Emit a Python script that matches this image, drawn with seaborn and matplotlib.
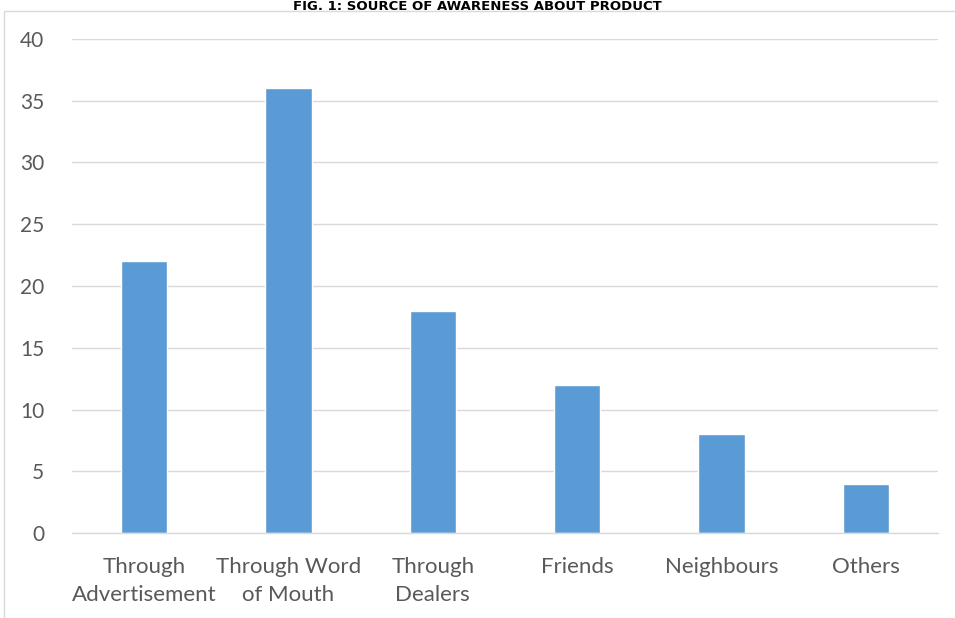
import matplotlib
matplotlib.use("Agg")
import matplotlib.pyplot as plt
import seaborn as sns
import pandas as pd
from matplotlib.patches import Rectangle

categories = ["Through\nAdvertisement", "Through Word\nof Mouth", "Through\nDealers", "Friends", "Neighbours", "Others"]
values = [22, 36, 18, 12, 8, 4]
yticks = [0, 5, 10, 15, 20, 25, 30, 35, 40]
title = "FIG. 1: SOURCE OF AWARENESS ABOUT PRODUCT"

sns.set_theme(style="white")
plt.rcParams['font.family'] = ['Lato', 'DejaVu Sans']

fig = plt.figure(figsize=(9.55, 6.18), dpi=100)
ax = fig.add_axes([72/955, 1-533/618, (938-72)/955, (533-39)/618])

df = pd.DataFrame({"cat": categories, "val": values})
sns.barplot(data=df, x="cat", y="val", color="#5b9bd5", width=0.32, ax=ax, saturation=1)

ax.set_ylim(0, 40)
ax.set_yticks(yticks)
ax.set_xlim(-0.5, len(categories) - 0.5)
ax.yaxis.grid(True, color="#d9d9d9", linewidth=1)
ax.set_axisbelow(True)
for s in ["top", "right", "left"]:
    ax.spines[s].set_visible(False)
ax.spines["bottom"].set_color("#d9d9d9")
ax.spines["bottom"].set_linewidth(1)
ax.set_xlabel("")
ax.set_ylabel("")
ax.tick_params(axis="both", length=0, colors="#595959")
ax.tick_params(axis="x", pad=17, labelsize=16)
ax.tick_params(axis="y", pad=20, labelsize=15)
for lbl in ax.get_xticklabels():
    lbl.set_linespacing(1.55)

fig.patches.append(Rectangle((4/955, -0.01), 1.0, 1 - 11/618 + 0.01, transform=fig.transFigure,
                             fill=False, edgecolor="#d9d9d9", linewidth=1))
fig.text(0.5, 1 - 6/618, title, ha="center", va="center", fontsize=9.5, fontweight="bold",
         color="black", family=['Liberation Sans Narrow', 'DejaVu Sans'])

fig.savefig("out.png", dpi=100)
